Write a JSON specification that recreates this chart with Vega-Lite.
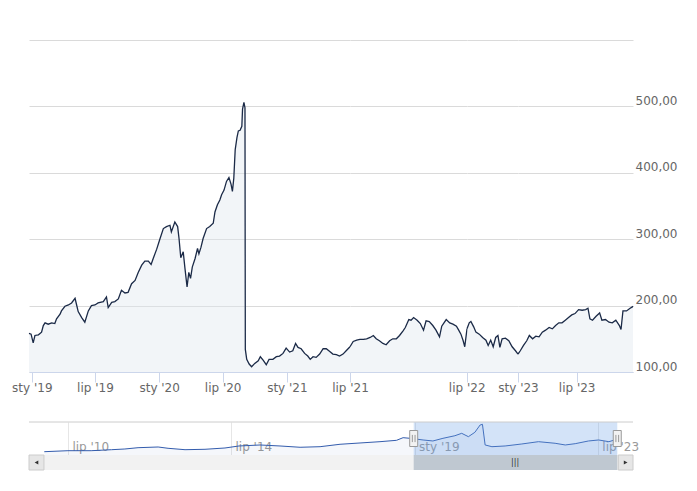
{
  "$schema": "https://vega.github.io/schema/vega-lite/v6.json",
  "background": "white",
  "padding": {"left": 11, "top": 40, "right": 5, "bottom": 5},
  "bounds": "full",
  "spacing": 28,
  "resolve": {"scale": {"x": "independent", "y": "independent"}},
  "config": {
    "view": {"stroke": null},
    "font": "DejaVu Sans",
    "axisX": {"title": null, "grid": false, "domainColor": "#ccd6eb", "tickColor": "#ccd6eb", "tickSize": 10, "labelColor": "#666666", "labelFontSize": 12, "labelFont": "DejaVu Sans", "labelPadding": 0, "labelOverlap": false, "labelFlush": false},
    "axisY": {"title": null, "domain": false, "ticks": false, "tickSize": 0, "grid": true, "gridColor": "#dadada", "labelAlign": "left", "labelBaseline": "alphabetic", "labelOffset": -2, "labelPadding": 2, "labelColor": "#666666", "labelFontSize": 12, "labelFont": "DejaVu Sans"}
  },
  "datasets": {
    "main": [
      {"date":"2018-12-24","value":158},{"date":"2018-12-30","value":157},{"date":"2019-01-05","value":144},{"date":"2019-01-10","value":155},
      {"date":"2019-01-20","value":156},{"date":"2019-01-29","value":160},{"date":"2019-02-03","value":170},{"date":"2019-02-08","value":174},
      {"date":"2019-02-17","value":172},{"date":"2019-02-27","value":174},{"date":"2019-03-08","value":173},{"date":"2019-03-13","value":180},
      {"date":"2019-03-23","value":187},{"date":"2019-03-27","value":192},{"date":"2019-04-06","value":199},{"date":"2019-04-16","value":201},
      {"date":"2019-04-25","value":204},{"date":"2019-05-05","value":211},{"date":"2019-05-09","value":202},{"date":"2019-05-14","value":191},
      {"date":"2019-05-24","value":182},{"date":"2019-06-02","value":175},{"date":"2019-06-12","value":192},{"date":"2019-06-21","value":200},
      {"date":"2019-07-01","value":201},{"date":"2019-07-10","value":204},{"date":"2019-07-25","value":206},{"date":"2019-08-03","value":213},
      {"date":"2019-08-08","value":197},{"date":"2019-08-18","value":205},{"date":"2019-08-27","value":206},{"date":"2019-09-06","value":210},
      {"date":"2019-09-15","value":223},{"date":"2019-09-25","value":219},{"date":"2019-10-04","value":220},{"date":"2019-10-14","value":233},
      {"date":"2019-10-24","value":238},{"date":"2019-11-02","value":250},{"date":"2019-11-12","value":261},{"date":"2019-11-21","value":267},
      {"date":"2019-12-01","value":267},{"date":"2019-12-09","value":262},{"date":"2019-12-15","value":271},{"date":"2019-12-25","value":285},
      {"date":"2020-01-03","value":300},{"date":"2020-01-13","value":316},{"date":"2020-01-22","value":319},{"date":"2020-02-01","value":321},
      {"date":"2020-02-05","value":311},{"date":"2020-02-15","value":326},{"date":"2020-02-23","value":319},{"date":"2020-02-27","value":301},
      {"date":"2020-03-03","value":272},{"date":"2020-03-10","value":281},{"date":"2020-03-15","value":256},{"date":"2020-03-21","value":228},
      {"date":"2020-03-26","value":250},{"date":"2020-03-31","value":241},{"date":"2020-04-05","value":258},{"date":"2020-04-13","value":271},
      {"date":"2020-04-20","value":286},{"date":"2020-04-24","value":278},{"date":"2020-04-30","value":288},{"date":"2020-05-06","value":301},
      {"date":"2020-05-16","value":316},{"date":"2020-05-25","value":319},{"date":"2020-06-04","value":324},{"date":"2020-06-09","value":341},
      {"date":"2020-06-16","value":352},{"date":"2020-06-23","value":359},{"date":"2020-06-28","value":367},{"date":"2020-07-05","value":374},
      {"date":"2020-07-12","value":387},{"date":"2020-07-19","value":393},{"date":"2020-07-25","value":383},{"date":"2020-07-29","value":372},
      {"date":"2020-08-02","value":392},{"date":"2020-08-06","value":435},{"date":"2020-08-11","value":453},{"date":"2020-08-15","value":463},
      {"date":"2020-08-20","value":464},{"date":"2020-08-25","value":470},{"date":"2020-08-27","value":496},{"date":"2020-08-31","value":506},
      {"date":"2020-09-03","value":498},{"date":"2020-09-04","value":134},{"date":"2020-09-08","value":119},{"date":"2020-09-15","value":112},
      {"date":"2020-09-22","value":108},{"date":"2020-10-01","value":113},{"date":"2020-10-11","value":117},{"date":"2020-10-17","value":123},
      {"date":"2020-10-25","value":118},{"date":"2020-11-03","value":111},{"date":"2020-11-11","value":119},{"date":"2020-11-22","value":119},
      {"date":"2020-12-02","value":123},{"date":"2020-12-11","value":124},{"date":"2020-12-21","value":128},{"date":"2020-12-30","value":136},
      {"date":"2021-01-09","value":130},{"date":"2021-01-18","value":132},{"date":"2021-01-26","value":143},{"date":"2021-02-02","value":137},
      {"date":"2021-02-11","value":135},{"date":"2021-02-21","value":128},{"date":"2021-03-02","value":124},{"date":"2021-03-09","value":119},
      {"date":"2021-03-17","value":123},{"date":"2021-03-26","value":122},{"date":"2021-04-05","value":127},{"date":"2021-04-15","value":135},
      {"date":"2021-04-24","value":135},{"date":"2021-05-04","value":131},{"date":"2021-05-13","value":127},{"date":"2021-05-23","value":126},
      {"date":"2021-06-01","value":124},{"date":"2021-06-11","value":127},{"date":"2021-06-20","value":132},{"date":"2021-07-01","value":138},
      {"date":"2021-07-11","value":146},{"date":"2021-07-22","value":148},{"date":"2021-08-01","value":149},{"date":"2021-08-12","value":149},
      {"date":"2021-08-22","value":150},{"date":"2021-09-02","value":152},{"date":"2021-09-12","value":155},{"date":"2021-09-21","value":150},
      {"date":"2021-10-01","value":147},{"date":"2021-10-12","value":143},{"date":"2021-10-22","value":141},{"date":"2021-11-02","value":147},
      {"date":"2021-11-12","value":150},{"date":"2021-11-23","value":150},{"date":"2021-12-03","value":155},{"date":"2021-12-14","value":162},
      {"date":"2021-12-21","value":167},{"date":"2022-01-01","value":179},{"date":"2022-01-08","value":178},{"date":"2022-01-16","value":182},
      {"date":"2022-01-27","value":178},{"date":"2022-02-06","value":173},{"date":"2022-02-16","value":163},{"date":"2022-02-24","value":177},
      {"date":"2022-03-06","value":176},{"date":"2022-03-17","value":170},{"date":"2022-03-27","value":163},{"date":"2022-04-07","value":153},
      {"date":"2022-04-14","value":169},{"date":"2022-04-21","value":174},{"date":"2022-04-28","value":179},{"date":"2022-05-09","value":174},
      {"date":"2022-05-19","value":172},{"date":"2022-05-30","value":169},{"date":"2022-06-06","value":163},{"date":"2022-06-13","value":157},
      {"date":"2022-06-20","value":147},{"date":"2022-06-25","value":138},{"date":"2022-07-02","value":165},{"date":"2022-07-10","value":174},
      {"date":"2022-07-16","value":176},{"date":"2022-07-26","value":168},{"date":"2022-08-03","value":160},{"date":"2022-08-15","value":157},
      {"date":"2022-08-27","value":152},{"date":"2022-09-08","value":148},{"date":"2022-09-16","value":140},{"date":"2022-09-25","value":148},
      {"date":"2022-10-04","value":138},{"date":"2022-10-13","value":152},{"date":"2022-10-21","value":155},{"date":"2022-10-28","value":137},
      {"date":"2022-11-05","value":150},{"date":"2022-11-17","value":151},{"date":"2022-11-29","value":147},{"date":"2022-12-11","value":138},
      {"date":"2022-12-23","value":132},{"date":"2023-01-01","value":127},{"date":"2023-01-08","value":132},{"date":"2023-01-18","value":140},
      {"date":"2023-01-28","value":147},{"date":"2023-02-05","value":155},{"date":"2023-02-15","value":150},{"date":"2023-02-25","value":154},
      {"date":"2023-03-07","value":153},{"date":"2023-03-17","value":160},{"date":"2023-03-27","value":163},{"date":"2023-04-07","value":167},
      {"date":"2023-04-17","value":165},{"date":"2023-04-27","value":170},{"date":"2023-05-07","value":174},{"date":"2023-05-17","value":174},
      {"date":"2023-05-27","value":178},{"date":"2023-06-06","value":182},{"date":"2023-06-16","value":186},{"date":"2023-06-26","value":188},
      {"date":"2023-07-07","value":194},{"date":"2023-07-18","value":193},{"date":"2023-07-29","value":194},{"date":"2023-08-05","value":196},
      {"date":"2023-08-11","value":180},{"date":"2023-08-19","value":178},{"date":"2023-08-30","value":184},{"date":"2023-09-10","value":189},
      {"date":"2023-09-17","value":178},{"date":"2023-09-28","value":179},{"date":"2023-10-09","value":175},{"date":"2023-10-19","value":174},
      {"date":"2023-10-30","value":178},{"date":"2023-11-10","value":170},{"date":"2023-11-15","value":164},{"date":"2023-11-21","value":192},
      {"date":"2023-12-02","value":192},{"date":"2023-12-13","value":196},{"date":"2023-12-20","value":198},{"date":"2023-12-22","value":199}
    ],
    "nav": [
      {"date":"2009-12-01","value":56},{"date":"2010-07-01","value":73},{"date":"2011-01-25","value":73},{"date":"2011-07-27","value":90},
      {"date":"2011-11-23","value":102},{"date":"2012-03-20","value":124},{"date":"2012-09-16","value":136},{"date":"2012-12-14","value":114},
      {"date":"2013-05-15","value":90},{"date":"2013-11-10","value":97},{"date":"2014-05-08","value":119},{"date":"2014-09-10","value":153},
      {"date":"2015-03-18","value":170},{"date":"2015-09-13","value":153},{"date":"2016-03-11","value":131},{"date":"2016-09-06","value":141},
      {"date":"2017-03-04","value":182},{"date":"2017-08-30","value":204},{"date":"2018-02-25","value":226},{"date":"2018-07-23","value":249},
      {"date":"2018-09-20","value":294},{"date":"2018-11-22","value":283},{"date":"2019-03-18","value":255},{"date":"2019-06-14","value":238},
      {"date":"2019-09-12","value":283},{"date":"2019-12-28","value":327},{"date":"2020-02-27","value":368},{"date":"2020-04-27","value":311},
      {"date":"2020-06-24","value":385},{"date":"2020-08-10","value":509},{"date":"2020-08-31","value":521},{"date":"2020-09-24","value":170},
      {"date":"2020-11-24","value":141},{"date":"2021-03-22","value":153},{"date":"2021-08-19","value":187},{"date":"2022-01-15","value":226},
      {"date":"2022-06-13","value":199},{"date":"2022-09-12","value":170},{"date":"2022-12-10","value":192},{"date":"2023-04-08","value":238},
      {"date":"2023-07-08","value":255},{"date":"2023-10-08","value":226},{"date":"2023-11-18","value":249},{"date":"2023-12-22","value":255}
    ],
    "sel": [{"start":"2018-12-24","end":"2023-12-22"}]
  },
  "vconcat": [
    {
      "hconcat": [
        {
          "width": 321, "height": 332,
          "data": {"name": "main"},
          "transform": [{"filter": {"field": "date", "range": [{"year":2018,"month":12,"date":24,"utc":true}, {"year":2021,"month":7,"date":1,"utc":true}]}}],
          "encoding": {
            "x": {"field": "date", "type": "temporal",
              "scale": {"type": "utc", "nice": false, "domain": [{"year":2018,"month":12,"date":24,"utc":true}, {"year":2021,"month":7,"date":1,"utc":true}]},
              "axis": {"values": [
                {"year":2019,"month":1,"date":1,"utc":true},{"year":2019,"month":7,"date":1,"utc":true},
                {"year":2020,"month":1,"date":1,"utc":true},{"year":2020,"month":7,"date":1,"utc":true},
                {"year":2021,"month":1,"date":1,"utc":true}],
                "labelExpr": "(utcmonth(datum.value) == 0 ? 'sty' : 'lip') + \" '\" + utcFormat(datum.value, '%y')"}},
            "y": {"field": "value", "type": "quantitative", "scale": {"domain": [100, 600], "zero": false, "nice": false},
              "axis": {"orient": "right", "values": [100, 200, 300, 400, 500, 600], "labels": false}}
          },
          "layer": [
            {"mark": {"type": "area", "color": "#dfe6ee", "opacity": 0.4}, "encoding": {"y2": {"datum": 100}}},
            {"mark": {"type": "line", "color": "#1b2a47", "strokeWidth": 1.3}}
          ]
        },
        {
          "width": 117, "height": 332,
          "data": {"name": "main"},
          "transform": [{"filter": {"field": "date", "range": [{"year":2021,"month":7,"date":1,"utc":true}, {"year":2022,"month":7,"date":2,"utc":true}]}}],
          "encoding": {
            "x": {"field": "date", "type": "temporal",
              "scale": {"type": "utc", "nice": false, "domain": [{"year":2021,"month":7,"date":1,"utc":true}, {"year":2022,"month":7,"date":2,"utc":true}]},
              "axis": {"values": [{"year":2021,"month":7,"date":1,"utc":true},{"year":2022,"month":7,"date":1,"utc":true}],
                "labelExpr": "(utcmonth(datum.value) == 0 ? 'sty' : 'lip') + \" '\" + utcFormat(datum.value, '%y')"}},
            "y": {"field": "value", "type": "quantitative", "scale": {"domain": [100, 600], "zero": false, "nice": false},
              "axis": {"orient": "right", "values": [100, 200, 300, 400, 500, 600], "labels": false}}
          },
          "layer": [
            {"mark": {"type": "area", "color": "#dfe6ee", "opacity": 0.4}, "encoding": {"y2": {"datum": 100}}},
            {"mark": {"type": "line", "color": "#1b2a47", "strokeWidth": 1.3}}
          ]
        },
        {
          "width": 51, "height": 332,
          "data": {"name": "main"},
          "transform": [{"filter": {"field": "date", "range": [{"year":2022,"month":7,"date":2,"utc":true}, {"year":2023,"month":1,"date":1,"utc":true}]}}],
          "encoding": {
            "x": {"field": "date", "type": "temporal",
              "scale": {"type": "utc", "nice": false, "domain": [{"year":2022,"month":7,"date":2,"utc":true}, {"year":2023,"month":1,"date":1,"utc":true}]},
              "axis": {"values": []}},
            "y": {"field": "value", "type": "quantitative", "scale": {"domain": [100, 600], "zero": false, "nice": false},
              "axis": {"orient": "right", "values": [100, 200, 300, 400, 500, 600], "labels": false}}
          },
          "layer": [
            {"mark": {"type": "area", "color": "#dfe6ee", "opacity": 0.4}, "encoding": {"y2": {"datum": 100}}},
            {"mark": {"type": "line", "color": "#1b2a47", "strokeWidth": 1.3}}
          ]
        },
        {
          "width": 115, "height": 332,
          "data": {"name": "main"},
          "transform": [{"filter": {"field": "date", "range": [{"year":2023,"month":1,"date":1,"utc":true}, {"year":2023,"month":12,"date":22,"utc":true}]}}],
          "encoding": {
            "x": {"field": "date", "type": "temporal",
              "scale": {"type": "utc", "nice": false, "domain": [{"year":2023,"month":1,"date":1,"utc":true}, {"year":2023,"month":12,"date":22,"utc":true}]},
              "axis": {"values": [{"year":2023,"month":1,"date":1,"utc":true},{"year":2023,"month":7,"date":1,"utc":true}],
                "labelExpr": "(utcmonth(datum.value) == 0 ? 'sty' : 'lip') + \" '\" + utcFormat(datum.value, '%y')"}},
            "y": {"field": "value", "type": "quantitative", "scale": {"domain": [100, 600], "zero": false, "nice": false},
              "axis": {"orient": "right", "values": [100, 200, 300, 400, 500, 600],
                "labelExpr": "datum.value == 600 ? '' : replace(format(datum.value, '.2f'), '.', ',')"}}
          },
          "layer": [
            {"mark": {"type": "area", "color": "#dfe6ee", "opacity": 0.4}, "encoding": {"y2": {"datum": 100}}},
            {"mark": {"type": "line", "color": "#1b2a47", "strokeWidth": 1.3}}
          ]
        }
      ],
      "spacing": 0,
      "bounds": "flush",
      "resolve": {"scale": {"x": "independent", "y": "independent"}}
    },
    {
      "bounds": "flush",
      "spacing": 0,
      "resolve": {"scale": {"x": "independent", "y": "independent"}},
      "vconcat": [
        {
          "width": 604,
          "height": 33,
          "layer": [
            {
              "data": {"name": "nav"},
              "mark": {"type": "area", "color": "#335cad", "opacity": 0.05},
              "encoding": {
                "x": {
                  "field": "date", "type": "temporal",
                  "scale": {"type": "utc", "domain": [{"year":2009,"month":7,"date":17,"utc":true}, {"year":2024,"month":5,"date":11,"utc":true}]},
                  "axis": {
                    "orient": "bottom",
                    "values": [
                      {"year":2010,"month":7,"date":1,"utc":true},
                      {"year":2014,"month":7,"date":1,"utc":true},
                      {"year":2019,"month":1,"date":1,"utc":true},
                      {"year":2023,"month":7,"date":1,"utc":true}
                    ],
                    "labelExpr": "(utcmonth(datum.value) == 0 ? 'sty' : 'lip') + \" '\" + utcFormat(datum.value, '%y')",
                    "title": null, "grid": true, "gridColor": "#e6e6e6", "ticks": false, "domain": false,
                    "labelAlign": "left", "labelBaseline": "alphabetic", "labelPadding": -5, "labelOffset": 4,
                    "labelColor": "#999999", "labelFontSize": 12, "labelFont": "DejaVu Sans"
                  }
                },
                "y": {"field": "value", "type": "quantitative", "scale": {"domain": [0, 560], "zero": false, "nice": false}, "axis": null},
                "y2": {"datum": 0}
              }
            },
            {
              "data": {"name": "nav"},
              "mark": {"type": "line", "color": "#335cad", "strokeWidth": 1},
              "encoding": {
                "x": {"field": "date", "type": "temporal", "scale": {"type": "utc", "domain": [{"year":2009,"month":7,"date":17,"utc":true}, {"year":2024,"month":5,"date":11,"utc":true}]}},
                "y": {"field": "value", "type": "quantitative", "scale": {"domain": [0, 560], "zero": false, "nice": false}, "axis": null}
              }
            },
            {
              "data": {"name": "sel"},
              "mark": {"type": "rect", "color": "#6ca2e8", "opacity": 0.3},
              "encoding": {
                "x": {"field": "start", "type": "temporal", "scale": {"type": "utc", "domain": [{"year":2009,"month":7,"date":17,"utc":true}, {"year":2024,"month":5,"date":11,"utc":true}]}},
                "x2": {"field": "end"}
              }
            },
            {
              "data": {"values": [{}]},
              "mark": {"type": "rule", "color": "#cccccc", "strokeWidth": 1},
              "encoding": {"y": {"datum": 560, "type": "quantitative", "scale": {"domain": [0, 560], "zero": false, "nice": false}}}
            },
            {
              "data": {"name": "sel"},
              "mark": {"type": "point", "shape": "M-0.5,-1H0.5V1H-0.5Z M-0.17,-0.45V0.45 M0.17,-0.45V0.45", "size": 256, "filled": true, "fill": "#f2f2f2", "stroke": "#999999", "strokeWidth": 1, "opacity": 1},
              "encoding": {"x": {"field": "start", "type": "temporal", "scale": {"type": "utc", "domain": [{"year":2009,"month":7,"date":17,"utc":true}, {"year":2024,"month":5,"date":11,"utc":true}]}}}
            },
            {
              "data": {"name": "sel"},
              "mark": {"type": "point", "shape": "M-0.5,-1H0.5V1H-0.5Z M-0.17,-0.45V0.45 M0.17,-0.45V0.45", "size": 256, "filled": true, "fill": "#f2f2f2", "stroke": "#999999", "strokeWidth": 1, "opacity": 1},
              "encoding": {"x": {"field": "end", "type": "temporal", "scale": {"type": "utc", "domain": [{"year":2009,"month":7,"date":17,"utc":true}, {"year":2024,"month":5,"date":11,"utc":true}]}}}
            }
          ]
        },
        {
          "width": 604,
          "height": 15,
          "view": {"fill": "#f2f2f2", "stroke": null},
          "layer": [
            {
              "data": {"name": "sel"},
              "mark": {"type": "rect", "color": "#bfc8d1"},
              "encoding": {
                "x": {"field": "start", "type": "temporal", "axis": null, "scale": {"type": "utc", "domain": [{"year":2009,"month":7,"date":17,"utc":true}, {"year":2024,"month":5,"date":11,"utc":true}]}},
                "x2": {"field": "end"}
              }
            },
            {
              "data": {"values": [{}]},
              "mark": {"type": "rect", "fill": "#e6e6e6", "stroke": "#cccccc", "strokeWidth": 1},
              "encoding": {
                "x": {"datum": {"year":2009,"month":7,"date":17,"utc":true}, "type": "temporal"},
                "x2": {"datum": {"year":2009,"month":11,"date":28,"utc":true}}
              }
            },
            {
              "data": {"values": [{}]},
              "mark": {"type": "rect", "fill": "#e6e6e6", "stroke": "#cccccc", "strokeWidth": 1},
              "encoding": {
                "x": {"datum": {"year":2023,"month":12,"date":31,"utc":true}, "type": "temporal"},
                "x2": {"datum": {"year":2024,"month":5,"date":11,"utc":true}}
              }
            },
            {
              "data": {"values": [{}]},
              "mark": {"type": "point", "shape": "triangle-left", "size": 18, "filled": true, "color": "#333333", "opacity": 1},
              "encoding": {"x": {"datum": {"year":2009,"month":9,"date":22,"utc":true}, "type": "temporal"}}
            },
            {
              "data": {"values": [{}]},
              "mark": {"type": "point", "shape": "triangle-right", "size": 18, "filled": true, "color": "#333333", "opacity": 1},
              "encoding": {"x": {"datum": {"year":2024,"month":3,"date":6,"utc":true}, "type": "temporal"}}
            },
            {
              "data": {"values": [{}]},
              "mark": {"type": "text", "text": "|||", "fontSize": 8, "color": "#333333", "font": "DejaVu Sans"},
              "encoding": {"x": {"datum": {"year":2021,"month":6,"date":20,"utc":true}, "type": "temporal"}}
            }
          ]
        }
      ]
    }
  ]
}
